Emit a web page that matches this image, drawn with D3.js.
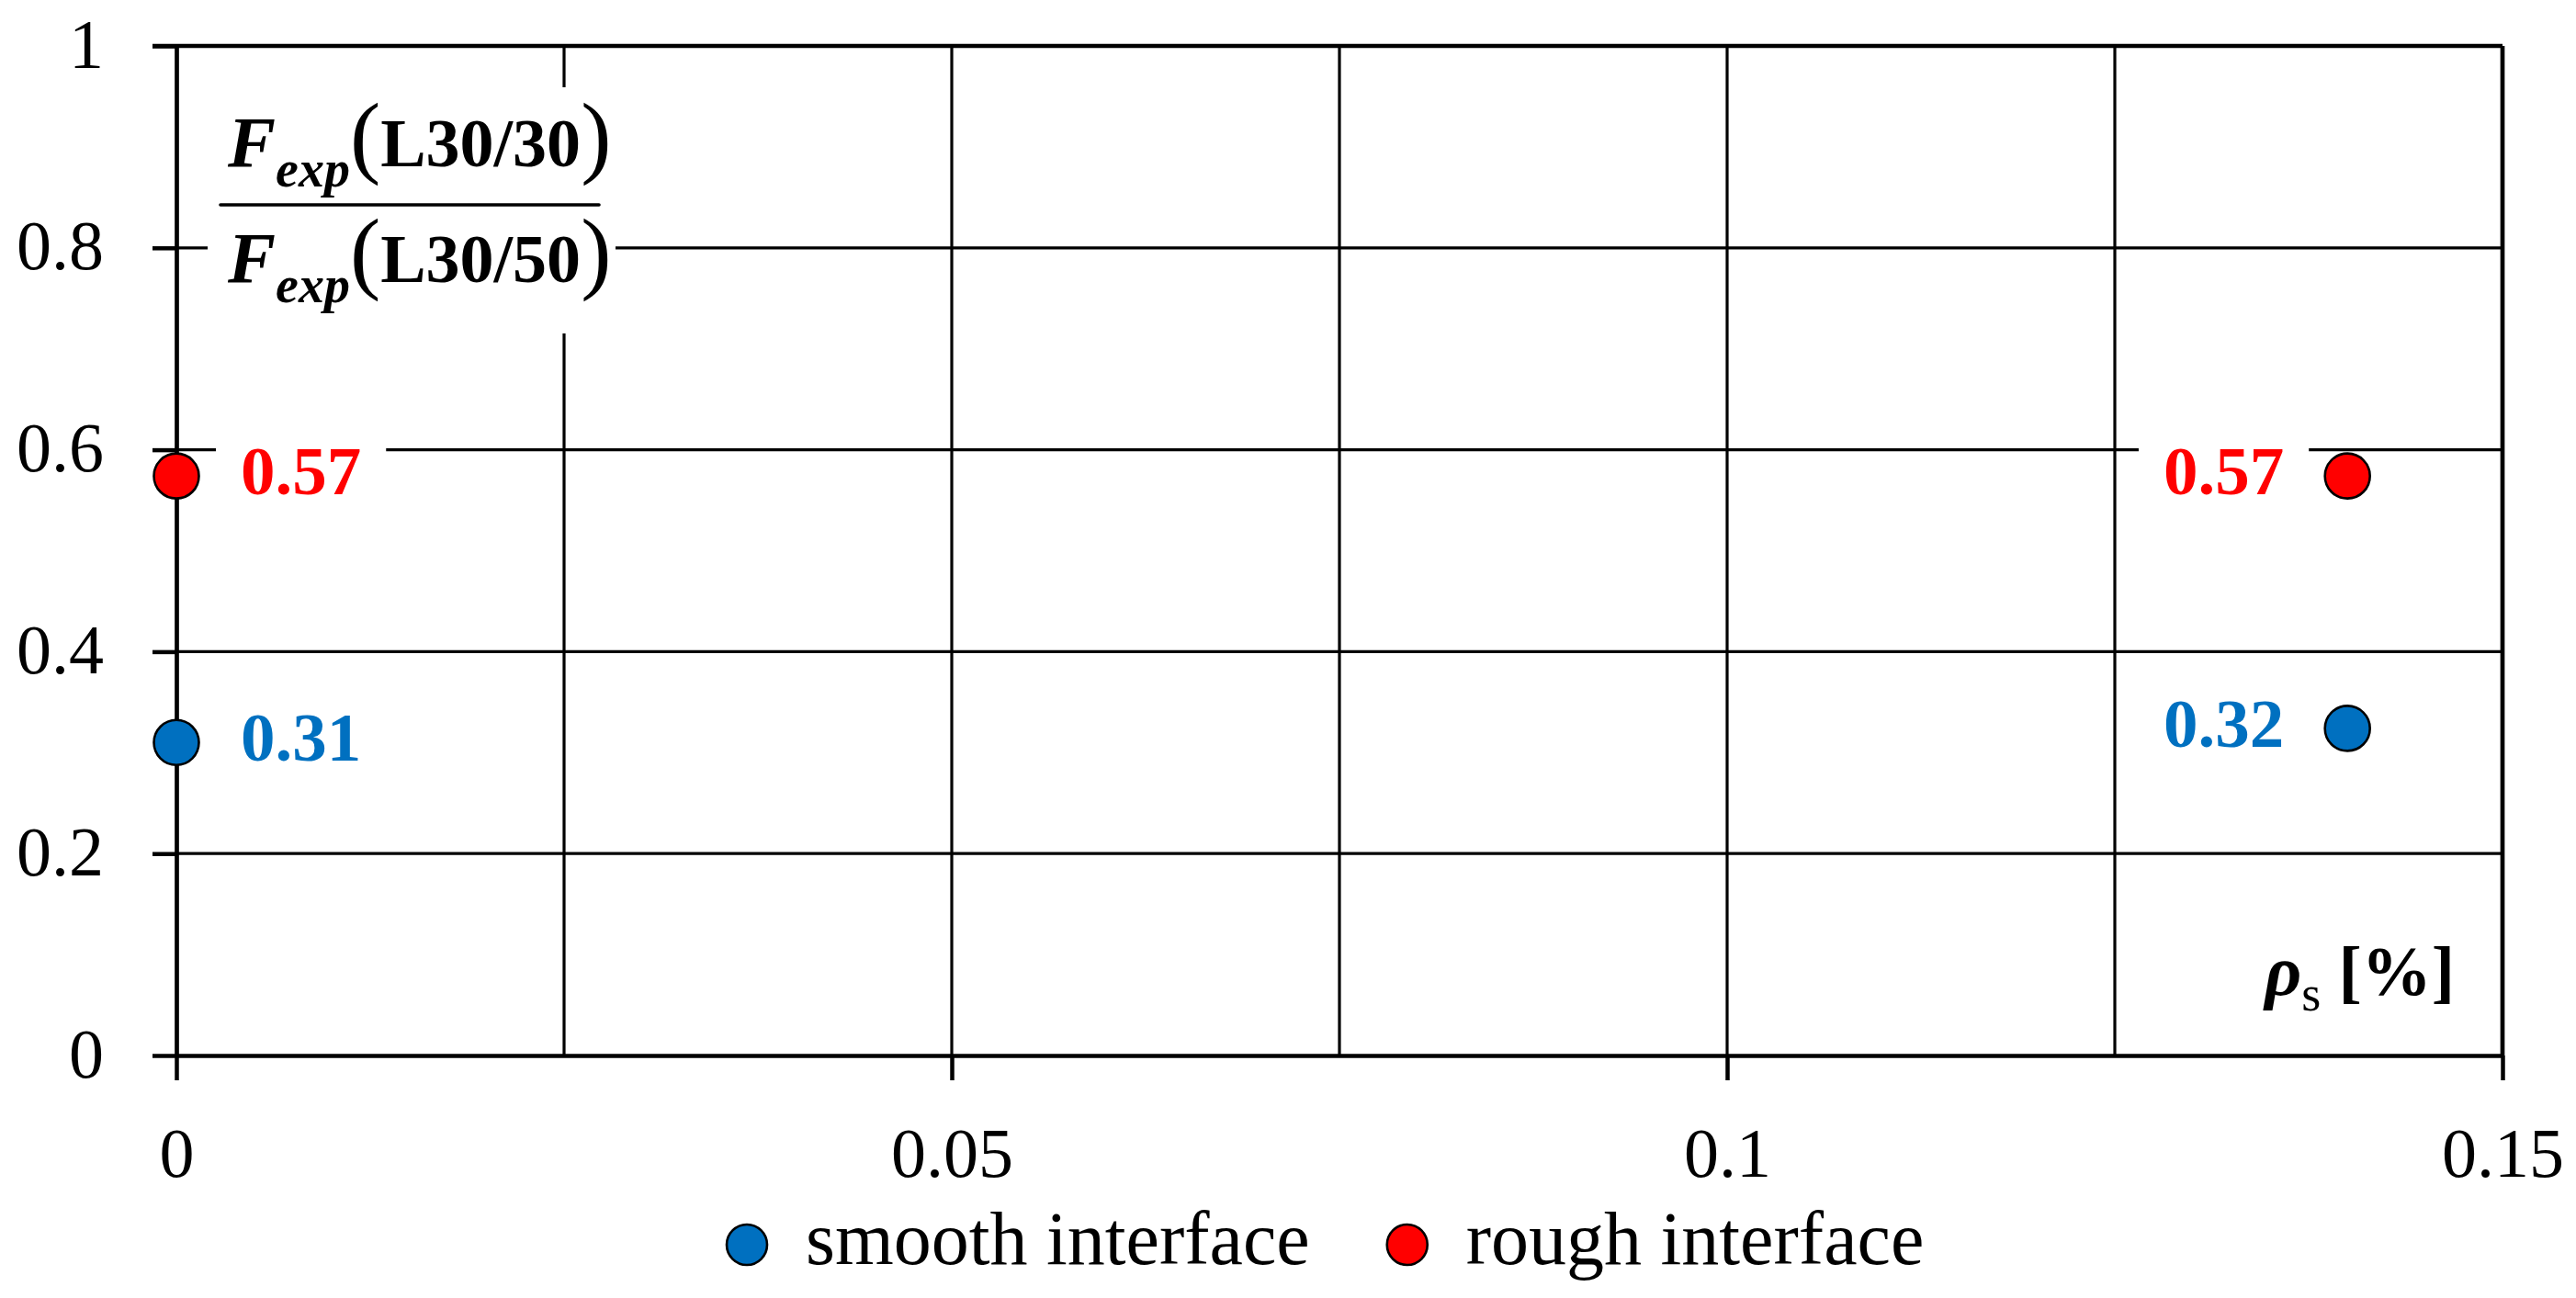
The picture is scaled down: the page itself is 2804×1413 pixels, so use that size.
<!DOCTYPE html>
<html>
<head>
<meta charset="utf-8">
<script src="https://cdn.jsdelivr.net/npm/d3@7"></script>
<style>
  html, body { margin: 0; padding: 0; background: #fff; }
  svg { display: block; }
  text { font-family: 'Liberation Serif', 'Times New Roman', serif; }
</style>
</head>
<body>
<div id="chart"></div>
<script>
// chart values
const xDomain = [0, 0.15];
const yDomain = [0, 1];
const xTicks = [0, 0.05, 0.1, 0.15];
const xTickLabels = ["0", "0.05", "0.1", "0.15"];
const xGrid = [0.025, 0.05, 0.075, 0.1, 0.125];
const yTicks = [0, 0.2, 0.4, 0.6, 0.8, 1];
const yTickLabels = ["0", "0.2", "0.4", "0.6", "0.8", "1"];
const yGrid = [0.2, 0.4, 0.6, 0.8];

const seriesNames = ["smooth interface", "rough interface"];
const smoothX = [0, 0.14];
const smoothY = [0.31, 0.324];
const smoothLabels = ["0.31", "0.32"];
const roughX = [0, 0.14];
const roughY = [0.574, 0.574];
const roughLabels = ["0.57", "0.57"];

const colors = ["#0070C0", "#FF0000"];

const W = 2804, H = 1413;
const margin = { left: 192, top: 50, right: 80, bottom: 264 };
const iw = W - margin.left - margin.right;
const ih = H - margin.top - margin.bottom;

const svg = d3.select("#chart").append("svg")
  .attr("width", W).attr("height", H);

const x = d3.scaleLinear().domain(xDomain).range([0, iw]);
const y = d3.scaleLinear().domain(yDomain).range([ih, 0]);

const g = svg.append("g").attr("transform", `translate(${margin.left},${margin.top})`);

// thin grid
g.append("g").selectAll("line").data(xGrid).join("line")
  .attr("x1", d => x(d)).attr("x2", d => x(d))
  .attr("y1", 0).attr("y2", ih)
  .attr("stroke", "#000").attr("stroke-width", 3.2);
g.append("g").selectAll("line").data(yGrid).join("line")
  .attr("x1", 0).attr("x2", iw)
  .attr("y1", d => y(d)).attr("y2", d => y(d))
  .attr("stroke", "#000").attr("stroke-width", 3.2);

// y-axis title (fraction) on a white box
const title = g.append("g").attr("transform", "translate(34,45)");
title.append("rect").attr("x", 0).attr("y", 0).attr("width", 444).attr("height", 268).attr("fill", "#fff");

function fracRow(baseline, txt) {
  const t = title.append("text").attr("x", 22).attr("y", baseline).attr("fill", "#000");
  t.append("tspan").attr("font-size", 78).attr("font-weight", "bold").attr("font-style", "italic").text("F");
  t.append("tspan").attr("font-size", 56).attr("font-weight", "bold").attr("font-style", "italic").attr("dy", 22).text("exp");
  t.append("tspan").attr("font-size", 100).attr("dy", -22).text("(");
  t.append("tspan").attr("font-size", 74).attr("font-weight", "bold").text(txt);
  t.append("tspan").attr("font-size", 100).text(")");
}
fracRow(86, "L30/30");
title.append("line").attr("x1", 14).attr("x2", 426).attr("y1", 128).attr("y2", 128)
  .attr("stroke", "#000").attr("stroke-width", 3.6).attr("stroke-linecap", "round");
fracRow(212, "L30/50");

// frame: top and right
g.append("line").attr("x1", -26).attr("x2", iw).attr("y1", y(1)).attr("y2", y(1))
  .attr("stroke", "#000").attr("stroke-width", 4.7);
g.append("line").attr("x1", x(0.15)).attr("x2", x(0.15)).attr("y1", y(1)).attr("y2", ih)
  .attr("stroke", "#000").attr("stroke-width", 4.7);

// axes
const yAxis = g.append("g")
  .call(d3.axisLeft(y).tickValues(yTicks).tickSize(26).tickSizeOuter(0)
    .tickFormat((d, i) => yTickLabels[i]));
const xAxis = g.append("g").attr("transform", `translate(0,${ih})`)
  .call(d3.axisBottom(x).tickValues(xTicks).tickSize(27).tickSizeOuter(0)
    .tickFormat((d, i) => xTickLabels[i]));

[yAxis, xAxis].forEach(a => {
  a.select(".domain").attr("stroke", "#000").attr("stroke-width", 4.7);
  a.selectAll(".tick line").attr("stroke", "#000").attr("stroke-width", 4.5);
  a.selectAll(".tick text").attr("fill", "#000").attr("font-size", 76)
    .attr("font-family", "'Liberation Serif', 'Times New Roman', serif");
});
yAxis.selectAll(".tick text").attr("x", -79).attr("dy", null).attr("dominant-baseline", "auto").attr("y", 23);
xAxis.selectAll(".tick text").attr("dy", null).attr("y", 132);

// x-axis title
g.append("text").attr("x", 2480).attr("y", 1033).attr("text-anchor", "end").attr("fill", "#000")
  .call(t => {
    t.append("tspan").attr("font-size", 78).attr("font-weight", "bold").attr("font-style", "italic").text("ρ");
    t.append("tspan").attr("font-size", 54).attr("dy", 17).text("s");
    t.append("tspan").attr("font-size", 76).attr("font-weight", "bold").attr("dy", -17).text(" [%]");
  });

// points and value labels
const series = [
  { name: seriesNames[0], color: colors[0], xs: smoothX, ys: smoothY, labels: smoothLabels },
  { name: seriesNames[1], color: colors[1], xs: roughX, ys: roughY, labels: roughLabels }
];

series.forEach(s => {
  const pts = s.xs.map((v, i) => ({ x: v, y: s.ys[i], label: s.labels[i] }));
  g.append("g").selectAll("circle").data(pts).join("circle")
    .attr("cx", d => x(d.x)).attr("cy", d => y(d.y)).attr("r", 24.5)
    .attr("fill", s.color).attr("stroke", "#000").attr("stroke-width", 2.6);

  const lab = g.append("g").selectAll("g").data(pts).join("g");
  lab.each(function (d) {
    const left = x(d.x) < iw / 2;
    const gg = d3.select(this);
    const rect = gg.append("rect").attr("fill", "#fff");
    const t = gg.append("text")
      .attr("x", left ? x(d.x) + 70 : x(d.x) - 69)
      .attr("y", y(d.y) + 20)
      .attr("text-anchor", left ? "start" : "end")
      .attr("font-size", 75).attr("font-weight", "bold")
      .attr("fill", s.color).text(d.label);
    const b = t.node().getBBox();
    rect.attr("x", b.x - 27).attr("y", b.y - 4).attr("width", b.width + 54).attr("height", b.height + 8);
  });
});

// legend
const leg = svg.append("g").attr("transform", "translate(813,1355)");
let lx = 0;
seriesNames.forEach((name, i) => {
  leg.append("circle").attr("cx", lx).attr("cy", 0).attr("r", 22)
    .attr("fill", colors[i]).attr("stroke", "#000").attr("stroke-width", 2.6);
  const t = leg.append("text").attr("x", lx + 64).attr("y", 21)
    .attr("font-size", 82).attr("fill", "#000").text(name);
  lx += 64 + t.node().getComputedTextLength() + 106;
});
</script>
</body>
</html>
